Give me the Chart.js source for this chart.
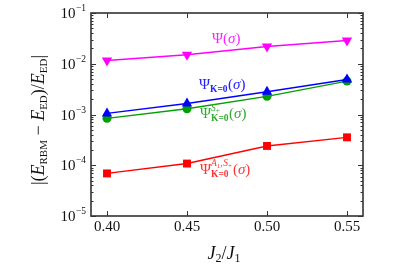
<!DOCTYPE html>
<html><head><meta charset="utf-8">
<script src="https://cdn.jsdelivr.net/npm/chart.js@4"></script>
<style>html,body{margin:0;padding:0;background:#fff}#w{width:399px;height:266px}</style>
</head><body><div id="w"><canvas id="c" width="399" height="266"></canvas></div>
<script>
const xValues = [0.40, 0.45, 0.50, 0.55];
const psiFull = [0.0116, 0.0150, 0.0219, 0.0288];
const psiK0 = [0.00105, 0.00165, 0.00280, 0.00490];
const psiK0S = [0.00084, 0.00130, 0.00228, 0.00455];
const psiK0AS = [0.000069, 0.000108, 0.000240, 0.000355];
const xTicks = [0.40, 0.45, 0.50, 0.55];
const xTickLabels = ['0.40', '0.45', '0.50', '0.55'];
const yTicks = [1e-5, 1e-4, 1e-3, 1e-2, 1e-1];
const yTickExps = ['\u22125', '\u22124', '\u22123', '\u22122', '\u22121'];

const SERIF = '"Liberation Serif", "DejaVu Serif", serif';
function mk(vals){ return xValues.map((x,i)=>({x:x,y:vals[i]})); }

function runsWidth(ctx, runs){
  let w = 0;
  runs.forEach(r=>{
    if(r.sup || r.sub){ w += Math.max(runsWidth(ctx, r.sup||[]), runsWidth(ctx, r.sub||[])); }
    else { ctx.font = r.f; w += ctx.measureText(r.t).width + (r.dx||0); }
  });
  return w;
}
function drawAt(ctx, x, y, runs){
  let cx = x;
  runs.forEach(r=>{
    if(r.sup || r.sub){
      const w1 = r.sup ? drawAt(ctx, cx, y, r.sup) - cx : 0;
      const w2 = r.sub ? drawAt(ctx, cx, y, r.sub) - cx : 0;
      cx += Math.max(w1, w2);
    } else {
      ctx.font = r.f; cx += (r.dx||0); ctx.fillText(r.t, cx, y + (r.dy||0)); cx += ctx.measureText(r.t).width;
    }
  });
  return cx;
}
function drawRuns(ctx, x, y, runs, align, color){
  const total = runsWidth(ctx, runs);
  const cx = align==='center' ? x - total/2 : (align==='right' ? x - total : x);
  ctx.fillStyle = color; ctx.textAlign='left'; ctx.textBaseline='alphabetic';
  drawAt(ctx, cx, y, runs);
}
const R = s=>s+'px '+SERIF, I = s=>'italic '+s+'px '+SERIF, B = s=>'bold '+s+'px '+SERIF;

const deco = {
  id:'deco',
  afterDraw(chart){
    const ctx = chart.ctx, a = chart.chartArea, xs = chart.scales.x, ys = chart.scales.y;
    ctx.save();
    ctx.strokeStyle = '#333'; ctx.lineWidth = 1;
    ctx.beginPath();
    xTicks.forEach(v=>{ const px = Math.round(xs.getPixelForValue(v))+0.5;
      ctx.moveTo(px,a.bottom); ctx.lineTo(px,a.bottom-5); ctx.moveTo(px,a.top); ctx.lineTo(px,a.top+5); });
    for(let e=-5;e<-1+0.5;e++){
      for(let m=1;m<10;m++){
        const v = m*Math.pow(10,e); if(v>0.1+1e-12) break;
        const py = Math.round(ys.getPixelForValue(v))+0.5; const L = m===1?5:2.5;
        ctx.moveTo(a.left,py); ctx.lineTo(a.left+L,py); ctx.moveTo(a.right,py); ctx.lineTo(a.right-L,py);
      }
    }
    ctx.stroke();
    ctx.lineWidth = 1.6;
    ctx.strokeRect(a.left, a.top, a.right-a.left, a.bottom-a.top);
    xTicks.forEach((v,i)=>drawRuns(ctx, xs.getPixelForValue(v), 231, [{t:xTickLabels[i], f:R(15)}], 'center', '#111'));
    yTicks.forEach((v,i)=>drawRuns(ctx, 86, ys.getPixelForValue(v)+5, [{t:'10',f:R(15)},{t:yTickExps[i],f:R(9.5),dy:-7,dx:0.5}], 'right', '#111'));
    drawRuns(ctx, 224, 259, [{t:'J',f:I(18)},{t:'2',f:R(12),dy:3},{t:'/',f:R(18)},{t:'J',f:I(18)},{t:'1',f:R(12),dy:3}], 'center', '#111');
    ctx.save(); ctx.translate(38,120); ctx.rotate(-Math.PI/2);
    drawRuns(ctx, 0, 6, [{t:'|(',f:R(18)},{t:'E',f:I(18)},{t:'RBM',f:R(11),dy:3},{t:' \u2212 ',f:R(18)},{t:'E',f:I(18)},{t:'ED',f:R(11),dy:3},{t:')/',f:R(18)},{t:'E',f:I(18)},{t:'ED',f:R(11),dy:3},{t:'|',f:R(18)}], 'center', '#111');
    ctx.restore();
    drawRuns(ctx, 212, 43, [{t:'\u03A8(',f:R(15)},{t:'\u03C3',f:I(15)},{t:')',f:R(15)}], 'left', '#ff22ff');
    drawRuns(ctx, 199, 89, [{t:'\u03A8',f:R(15)},{t:'K=0',f:B(9.5),dy:3},{t:'(',f:R(15),dx:0.5},{t:'\u03C3',f:I(15)},{t:')',f:R(15)}], 'left', '#2222ff');
    drawRuns(ctx, 200, 118, [{t:'\u03A8',f:R(15)},
      {sup:[{t:'S',f:I(9.5),dy:-7},{t:'+',f:R(7.5),dy:-5}], sub:[{t:'K=0',f:B(9.5),dy:3}]},
      {t:'(',f:R(15),dx:0.5},{t:'\u03C3',f:I(15)},{t:')',f:R(15)}], 'left', '#33aa33');
    drawRuns(ctx, 200, 174, [{t:'\u03A8',f:R(15)},
      {sup:[{t:'A',f:I(9.5),dy:-8},{t:'1',f:R(7),dy:-6},{t:',',f:R(9.5),dy:-8},{t:'S',f:I(9.5),dy:-8,dx:0.5},{t:'+',f:R(7),dy:-6}], sub:[{t:'K=0',f:B(9.5),dy:3}]},
      {t:'(',f:R(15),dx:1},{t:'\u03C3',f:I(15)},{t:')',f:R(15)}], 'left', '#ff3333');
    ctx.restore();
  }
};

function ds(vals, color, style, r, rot){
  return {data: mk(vals), borderColor: color, backgroundColor: color, borderWidth: 1.4,
    pointStyle: style, pointRadius: r, pointHoverRadius: r, pointRotation: rot||0,
    pointBackgroundColor: color, pointBorderColor: color, pointBorderWidth: 0, tension: 0, fill:false};
}

new Chart(document.getElementById('c'), {
  type:'line',
  data:{datasets:[
    ds(psiFull, '#ff00ff', 'triangle', 6, 180),
    ds(psiK0, '#0000ff', 'triangle', 6, 0),
    ds(psiK0S, '#00a000', 'circle', 4.5, 0),
    ds(psiK0AS, '#ff0000', 'rect', 5.6, 0)
  ]},
  options:{
    responsive:false, animation:false, devicePixelRatio:1,
    layout:{padding:{left:91, right:36, top:13, bottom:50}},
    plugins:{legend:{display:false}, tooltip:{enabled:false}},
    scales:{
      x:{type:'linear', min:0.39, max:0.56, grid:{display:false, drawTicks:false}, border:{display:false}, ticks:{display:false}},
      y:{type:'logarithmic', min:1e-5, max:1e-1, grid:{display:false, drawTicks:false}, border:{display:false}, ticks:{display:false}}
    }
  },
  plugins:[deco]
});
</script></body></html>
